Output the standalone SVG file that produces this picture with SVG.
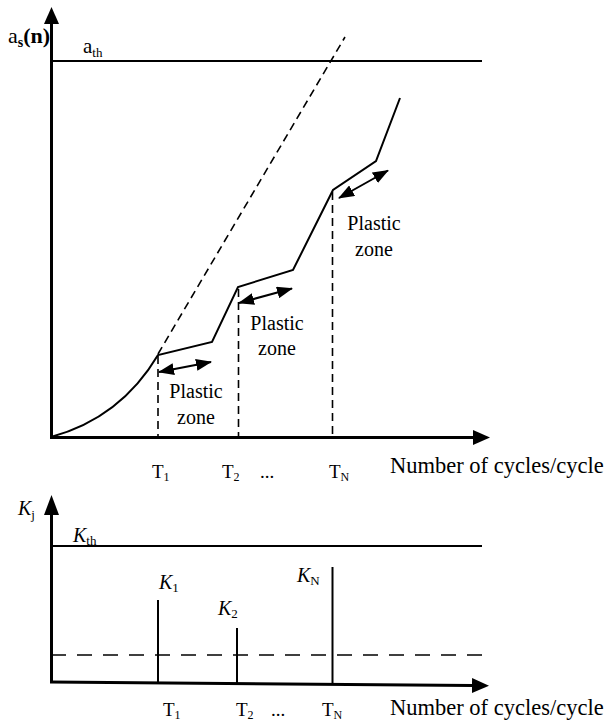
<svg xmlns="http://www.w3.org/2000/svg" width="607" height="724" viewBox="0 0 607 724">
<style>
.t{font-family:"Liberation Serif","Times New Roman","DejaVu Serif",serif;fill:#000}
.ax{stroke:#000;stroke-width:3;fill:none}
.thin{stroke:#000;stroke-width:2;fill:none}
.dash{stroke:#000;stroke-width:1.6;fill:none;stroke-dasharray:8 5}
.ldash{stroke:#000;stroke-width:1.6;fill:none;stroke-dasharray:15 11}
.dbl{stroke:#000;stroke-width:2;fill:none;marker-start:url(#sh);marker-end:url(#sh)}
</style>
<defs>
<marker id="ah" markerUnits="userSpaceOnUse" viewBox="0 0 17 15" markerWidth="17" markerHeight="15" refX="0" refY="7.5" orient="auto"><path d="M0,0 L17,7.5 L0,15 z" fill="#000"/></marker>
<marker id="ah2" markerUnits="userSpaceOnUse" viewBox="0 0 20 15" markerWidth="20" markerHeight="15" refX="0" refY="7.5" orient="auto"><path d="M0,0 L20,7.5 L0,15 z" fill="#000"/></marker>
<marker id="sh" markerUnits="userSpaceOnUse" viewBox="0 0 16 12" markerWidth="16" markerHeight="12" refX="15" refY="6" orient="auto-start-reverse"><path d="M0,0 L16,6 L0,12 z" fill="#000"/></marker>
</defs>

<g id="top-plot">
  <g id="axes-top">
    <line class="ax" x1="51.5" y1="438" x2="51.5" y2="24" marker-end="url(#ah)"/>
    <line class="ax" x1="50" y1="437.5" x2="473" y2="437.5" marker-end="url(#ah)"/>
  </g>
  <line id="a-th-line" class="thin" x1="51" y1="61" x2="482" y2="61"/>
  <line id="extrapolation" class="dash" x1="158" y1="354" x2="345" y2="37"/>
  <path id="growth-curve" class="thin" d="M51,437 Q120.6,418 158,355 L212,342 L238,287 L293,270 L333,190 L376,161 L400,98"/>
  <g id="cycle-markers">
    <line class="dash" x1="158" y1="356" x2="158" y2="437"/>
    <line class="dash" x1="238.5" y1="289" x2="238.5" y2="437"/>
    <line class="dash" x1="332.5" y1="192" x2="332.5" y2="437"/>
  </g>
  <g id="plastic-arrows">
    <line class="dbl" x1="159" y1="372" x2="211" y2="362"/>
    <line class="dbl" x1="239" y1="303" x2="292" y2="288.5"/>
    <line class="dbl" x1="339" y1="198" x2="388" y2="170.5"/>
  </g>
  <g id="plastic-zone-1"><text class="t" font-size="20" x="196" y="398" text-anchor="middle">Plastic</text><text class="t" font-size="20" x="196" y="424" text-anchor="middle">zone</text></g>
  <g id="plastic-zone-2"><text class="t" font-size="20" x="277" y="330" text-anchor="middle">Plastic</text><text class="t" font-size="20" x="277" y="355" text-anchor="middle">zone</text></g>
  <g id="plastic-zone-3"><text class="t" font-size="20" x="374" y="230" text-anchor="middle">Plastic</text><text class="t" font-size="20" x="374" y="256" text-anchor="middle">zone</text></g>
  <text class="t" font-size="22" x="8" y="43">a<tspan font-size="14" font-weight="bold" dy="4">s</tspan><tspan font-weight="bold" dy="-4">(n)</tspan></text>
  <text class="t" font-size="21" x="83" y="53">a<tspan font-size="13" dy="4">th</tspan></text>
  <text class="t" font-size="19" x="152" y="478">T<tspan font-size="12" dy="3">1</tspan></text>
  <text class="t" font-size="19" x="222" y="478">T<tspan font-size="12" dy="3">2</tspan></text>
  <text class="t" font-size="19" x="260" y="478">...</text>
  <text class="t" font-size="19" x="329" y="478">T<tspan font-size="12" dy="3">N</tspan></text>
  <text class="t" font-size="22.5" x="390" y="473">Number of cycles/cycle</text>
</g>

<g id="bottom-plot">
  <g id="axes-bottom">
    <line class="ax" x1="51.5" y1="683" x2="51.5" y2="515" marker-end="url(#ah2)"/>
    <line class="ax" x1="50" y1="682" x2="472" y2="685.5" marker-end="url(#ah)"/>
  </g>
  <line id="k-th-line" class="thin" x1="51" y1="546" x2="482" y2="546"/>
  <line id="k-base-dash" class="ldash" x1="51" y1="655" x2="482" y2="655"/>
  <g id="k-bars">
    <line class="thin" x1="158" y1="600" x2="158" y2="683"/>
    <line class="thin" x1="237" y1="628" x2="237" y2="684"/>
    <line class="thin" x1="332.5" y1="567" x2="332.5" y2="685"/>
  </g>
  <text class="t" font-size="20" x="18" y="515"><tspan font-style="italic">K</tspan><tspan font-size="13" dy="4">j</tspan></text>
  <text class="t" font-size="20" x="73" y="542"><tspan font-style="italic">K</tspan><tspan font-size="13" dy="3">th</tspan></text>
  <text class="t" font-size="20" x="159" y="589"><tspan font-style="italic">K</tspan><tspan font-size="13" dy="3">1</tspan></text>
  <text class="t" font-size="20" x="218" y="615"><tspan font-style="italic">K</tspan><tspan font-size="13" dy="3">2</tspan></text>
  <text class="t" font-size="20" x="297" y="582"><tspan font-style="italic">K</tspan><tspan font-size="13" dy="3">N</tspan></text>
  <text class="t" font-size="19" x="163" y="716">T<tspan font-size="12" dy="3">1</tspan></text>
  <text class="t" font-size="19" x="236" y="716">T<tspan font-size="12" dy="3">2</tspan></text>
  <text class="t" font-size="19" x="271" y="716">...</text>
  <text class="t" font-size="19" x="322" y="716">T<tspan font-size="12" dy="3">N</tspan></text>
  <text class="t" font-size="22.5" x="390" y="715">Number of cycles/cycle</text>
</g>
</svg>
